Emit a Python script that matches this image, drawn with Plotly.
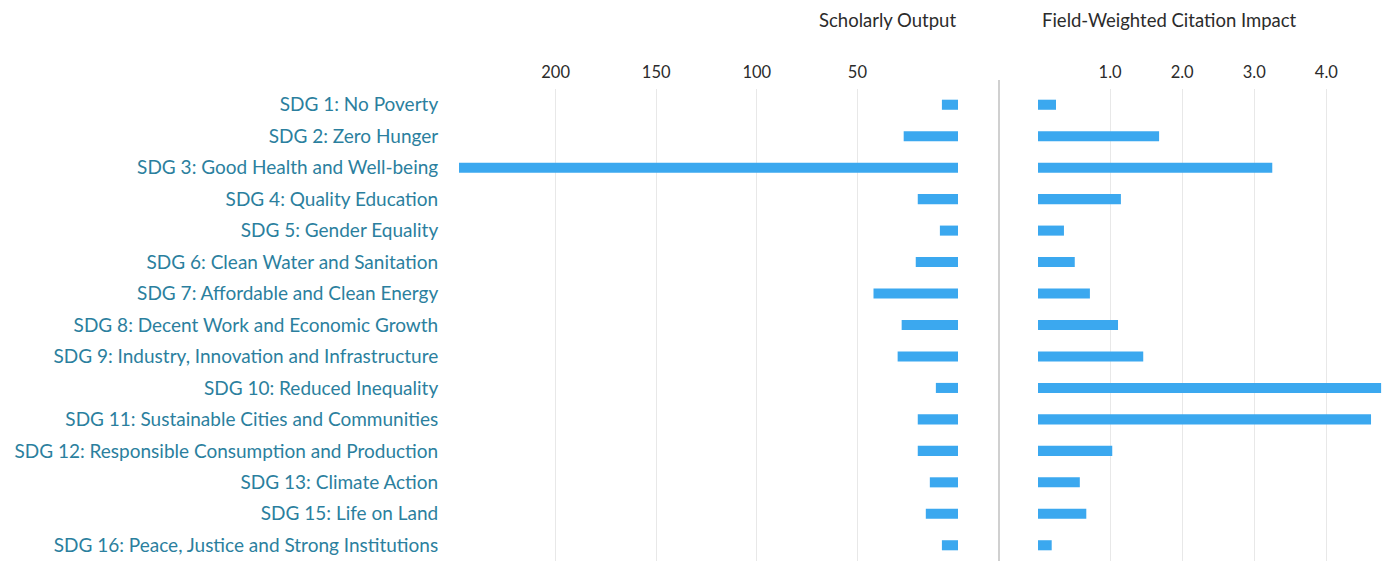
import plotly.graph_objects as go

categories = [
    "SDG 1: No Poverty",
    "SDG 2: Zero Hunger",
    "SDG 3: Good Health and Well-being",
    "SDG 4: Quality Education",
    "SDG 5: Gender Equality",
    "SDG 6: Clean Water and Sanitation",
    "SDG 7: Affordable and Clean Energy",
    "SDG 8: Decent Work and Economic Growth",
    "SDG 9: Industry, Innovation and Infrastructure",
    "SDG 10: Reduced Inequality",
    "SDG 11: Sustainable Cities and Communities",
    "SDG 12: Responsible Consumption and Production",
    "SDG 13: Climate Action",
    "SDG 15: Life on Land",
    "SDG 16: Peace, Justice and Strong Institutions",
]
scholarly_output = [8, 27, 248, 20, 9, 21, 42, 28, 30, 11, 20, 20, 14, 16, 8]
fwci = [0.25, 1.68, 3.25, 1.15, 0.36, 0.51, 0.72, 1.11, 1.46, 4.76, 4.62, 1.03, 0.58, 0.67, 0.19]

left_tickvals = [0, 50, 100, 150, 200, 250]
left_ticktext = ["", "50", "100", "150", "200", ""]
right_tickvals = [0, 1, 2, 3, 4]
right_ticktext = ["", "1.0", "2.0", "3.0", "4.0"]

BAR = "#3ba8ef"
LABEL = "#2b7f9e"
TEXT = "#2b2b2b"
GRID = "#e8e8e8"
FONT = "Lato"

fig = go.Figure()
fig.add_trace(go.Bar(y=categories, x=scholarly_output, orientation="h",
                     marker=dict(color=BAR, line=dict(width=0)), width=0.32,
                     xaxis="x", yaxis="y", showlegend=False))
fig.add_trace(go.Bar(y=categories, x=fwci, orientation="h",
                     marker=dict(color=BAR, line=dict(width=0)), width=0.32,
                     xaxis="x2", yaxis="y2", showlegend=False))

OFF = 8  # page body margin
W, H = 1390 - OFF, 561 - OFF
ml, mr, mt, mb = 455 - OFF, 6, 89 - OFF, 0
pw = W - ml - mr
d1 = (958 - OFF - ml) / pw
d2 = (1038 - OFF - ml) / pw

fig.update_layout(
    width=W, height=H,
    margin=dict(l=ml, r=mr, t=mt, b=mb, pad=0),
    plot_bgcolor="white", paper_bgcolor="white",
    font=dict(family=FONT, size=16, color=TEXT),
    xaxis=dict(domain=[0, d1], range=[250, 0], side="top",
               tickvals=left_tickvals, ticktext=left_ticktext,
               showgrid=True, gridcolor=GRID, gridwidth=1, zeroline=False,
               showline=False, ticks="outside", ticklen=3, tickcolor="rgba(0,0,0,0)",
               tickfont=dict(family=FONT, size=16.5, color=TEXT), fixedrange=True),
    xaxis2=dict(domain=[d2, 1], range=[0, 4.8], side="top",
                tickvals=right_tickvals, ticktext=right_ticktext,
                showgrid=True, gridcolor=GRID, gridwidth=1, zeroline=False,
                showline=False, ticks="outside", ticklen=3, tickcolor="rgba(0,0,0,0)",
                tickfont=dict(family=FONT, size=16.5, color=TEXT), fixedrange=True),
    yaxis=dict(anchor="x", type="category", autorange="reversed",
               showgrid=False, zeroline=False, showline=False,
               ticks="outside", ticklen=12, tickcolor="rgba(0,0,0,0)",
               tickfont=dict(family=FONT, size=19, color=LABEL)),
    yaxis2=dict(anchor="x2", matches="y", type="category", autorange="reversed",
                showticklabels=False, showgrid=False, zeroline=False, showline=False),
)

# divider between the two panels
xdiv = (999 - OFF - ml) / pw
fig.add_shape(type="line", xref="paper", yref="paper",
              x0=xdiv, x1=xdiv, y0=0, y1=1 + 9 / (H - mt - mb),
              line=dict(color="#d0d0d0", width=2))

fig.add_annotation(text="Scholarly Output", xref="x", x=0, yref="paper", y=1,
                   xanchor="right", yanchor="middle", yshift=69, showarrow=False,
                   font=dict(family=FONT, size=18.5, color=TEXT))
fig.add_annotation(text="Field-Weighted Citation Impact", xref="x2", x=0, yref="paper", y=1,
                   xanchor="left", yanchor="middle", yshift=69, xshift=2, showarrow=False,
                   font=dict(family=FONT, size=18.5, color=TEXT))

fig.write_html("out.html")
